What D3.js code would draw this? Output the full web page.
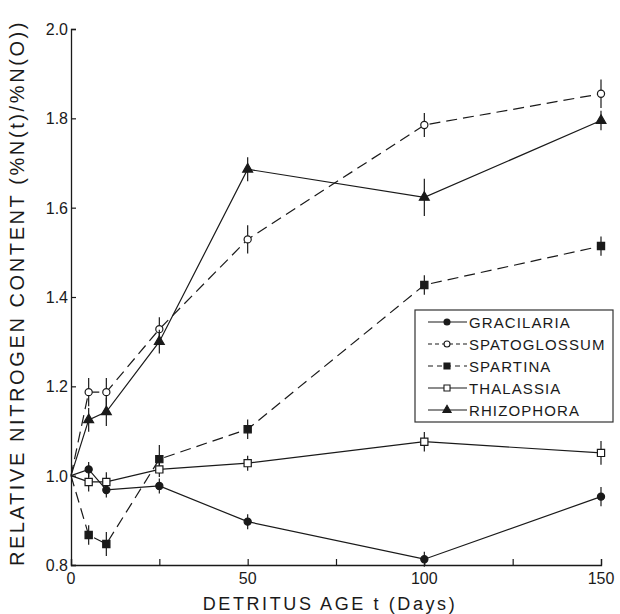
<!DOCTYPE html>
<html>
<head>
<meta charset="utf-8">
<script src="https://cdn.jsdelivr.net/npm/d3@7"></script>
<style>
  body { margin: 0; background: #fff; }
  svg { display: block; font-family: "Liberation Sans", Arial, sans-serif; }
  .lbl { fill: #1a1a1a; }
</style>
</head>
<body>
<div id="chart"></div>
<script>
// days sampled
const days = [0, 5, 10, 25, 50, 100, 150];

// relative N content
const gracilaria    = [1.0, 1.014, 0.968, 0.977, 0.897, 0.813, 0.953];
const spatoglossum  = [1.0, 1.187, 1.187, 1.328, 1.529, 1.785, 1.855];
const spartina      = [1.0, 0.867, 0.847, 1.037, 1.104, 1.427, 1.514];
const thalassia     = [1.0, 0.986, 0.986, 1.014, 1.028, 1.076, 1.051];
const rhizophora    = [1.0, 1.125, 1.143, 1.300, 1.686, 1.623, 1.795];

// half length of the error bars (0 = none drawn)
const gracilariaErr   = [0, 0.01, 0.01, 0.01, 0.01, 0.01, 0.015];
const spatoglossumErr = [0, 0.025, 0.025, 0.02, 0.025, 0.02, 0.025];
const spartinaErr     = [0, 0.015, 0.02, 0.025, 0.015, 0.015, 0.015];
const thalassiaErr    = [0, 0.015, 0.015, 0.01, 0.01, 0.015, 0.02];
const rhizophoraErr   = [0, 0.02, 0.025, 0.02, 0.02, 0.035, 0.015];

const names = ["GRACILARIA", "SPATOGLOSSUM", "SPARTINA", "THALASSIA", "RHIZOPHORA"];
const xTicks = [0, 50, 100, 150];
const xMinor = [25, 75, 125];
const yTicks = [0.8, 1.0, 1.2, 1.4, 1.6, 1.8, 2.0];

let width = 620, height = 614,
    margin = ({ top: 29, right: 19, bottom: 49, left: 71 });

const ink = "#1a1a1a";

const svg = d3.select("#chart").append("svg")
  .attr("width", width).attr("height", height);

let x = d3.scaleLinear().domain([0, 150]).range([margin.left, width - margin.right]);
let y = d3.scaleLinear().domain([0.8, 2.0]).range([height - margin.bottom, margin.top]);

// series setup
const series = [
  { name: names[0], vals: gracilaria,   err: gracilariaErr,   dash: null,   sym: "circle",  fill: ink },
  { name: names[1], vals: spatoglossum, err: spatoglossumErr, dash: "11,6", sym: "circle",  fill: "#fff" },
  { name: names[2], vals: spartina,     err: spartinaErr,     dash: "11,6", sym: "square",  fill: ink },
  { name: names[3], vals: thalassia,    err: thalassiaErr,    dash: null,   sym: "square",  fill: "#fff" },
  { name: names[4], vals: rhizophora,   err: rhizophoraErr,   dash: null,   sym: "triangle", fill: ink }
];

const symSize = { circle: 40, square: 52, triangle: 42 };
const symType = { circle: d3.symbolCircle, square: d3.symbolSquare, triangle: d3.symbolTriangle };

// axes (ticks point inward)
svg.append("g")
  .attr("transform", `translate(0,${y(0.8)})`)
  .call(d3.axisBottom(x).tickValues(xTicks.concat(xMinor)).tickSize(-6).tickFormat(""))
  .call(g => g.select(".domain").attr("stroke", ink).attr("stroke-width", 1.3))
  .call(g => g.selectAll(".tick line").attr("stroke", ink).attr("stroke-width", 1.2));

svg.append("g")
  .attr("transform", `translate(${x(0)},0)`)
  .call(d3.axisLeft(y).tickValues(yTicks).tickSize(-5).tickFormat(""))
  .call(g => g.select(".domain").attr("stroke", ink).attr("stroke-width", 1.3))
  .call(g => g.selectAll(".tick line").attr("stroke", ink).attr("stroke-width", 1.2));

// tick labels
svg.append("g").selectAll("text")
  .data(yTicks)
  .join("text")
  .attr("class", "lbl")
  .attr("x", x(0) - 3)
  .attr("y", d => y(d) + 6)
  .attr("text-anchor", "end")
  .attr("font-size", 16)
  .text(d => d.toFixed(1));

svg.append("g").selectAll("text")
  .data(xTicks)
  .join("text")
  .attr("class", "lbl")
  .attr("x", d => x(d))
  .attr("y", y(0.8) + 19)
  .attr("text-anchor", "middle")
  .attr("font-size", 16)
  .text(d => d);

// axis titles
svg.append("text")
  .attr("class", "lbl")
  .attr("x", 330).attr("y", 610)
  .attr("text-anchor", "middle")
  .attr("font-size", 18)
  .attr("letter-spacing", 2.6)
  .text("DETRITUS AGE t (Days)");

svg.append("text")
  .attr("class", "lbl")
  .attr("transform", "translate(24,293) rotate(-90)")
  .attr("text-anchor", "middle")
  .attr("font-size", 20)
  .attr("letter-spacing", 2.6)
  .text("RELATIVE NITROGEN CONTENT (%N(t)/%N(O))");

// lines
const line = d3.line().x((d, i) => x(days[i])).y(d => y(d));

svg.append("g").selectAll("path")
  .data(series)
  .join("path")
  .attr("fill", "none")
  .attr("stroke", ink)
  .attr("stroke-width", 1.2)
  .attr("stroke-dasharray", d => d.dash)
  .attr("d", d => line(d.vals));

// error bars + markers
series.forEach(s => {
  const pts = s.vals.map((v, i) => ({ t: days[i], v: v, e: s.err[i] })).filter(p => p.t > 0);
  const g = svg.append("g");
  g.selectAll("line")
    .data(pts)
    .join("line")
    .attr("x1", d => x(d.t)).attr("x2", d => x(d.t))
    .attr("y1", d => y(d.v - d.e) + 3).attr("y2", d => y(d.v + d.e) - 3)
    .attr("stroke", ink)
    .attr("stroke-width", 1.2);
  g.selectAll("path")
    .data(pts)
    .join("path")
    .attr("transform", d => `translate(${x(d.t)},${y(d.v)})`)
    .attr("d", d3.symbol(symType[s.sym], symSize[s.sym]))
    .attr("fill", s.fill)
    .attr("stroke", ink)
    .attr("stroke-width", 1.2);
});

// legend
const lg = svg.append("g").attr("transform", "translate(415,310)");
lg.append("rect")
  .attr("width", 198).attr("height", 112)
  .attr("fill", "#fff")
  .attr("stroke", "#333")
  .attr("stroke-width", 1.2);

const legendDash = [null, "4,3", "5,4", null, null];
const row = lg.selectAll("g")
  .data(series)
  .join("g")
  .attr("transform", (d, i) => `translate(0,${12 + i * 22})`);

row.append("line")
  .attr("x1", 13).attr("x2", 52)
  .attr("stroke", ink).attr("stroke-width", 1.2)
  .attr("stroke-dasharray", (d, i) => legendDash[i]);

row.append("path")
  .attr("transform", "translate(32,0)")
  .attr("d", d => d3.symbol(symType[d.sym], symSize[d.sym] * 0.7)())
  .attr("fill", d => d.fill)
  .attr("stroke", ink)
  .attr("stroke-width", 1.1);

row.append("text")
  .attr("class", "lbl")
  .attr("x", 54).attr("y", 6)
  .attr("font-size", 15)
  .attr("letter-spacing", 1.1)
  .text(d => d.name);
</script>
</body>
</html>
